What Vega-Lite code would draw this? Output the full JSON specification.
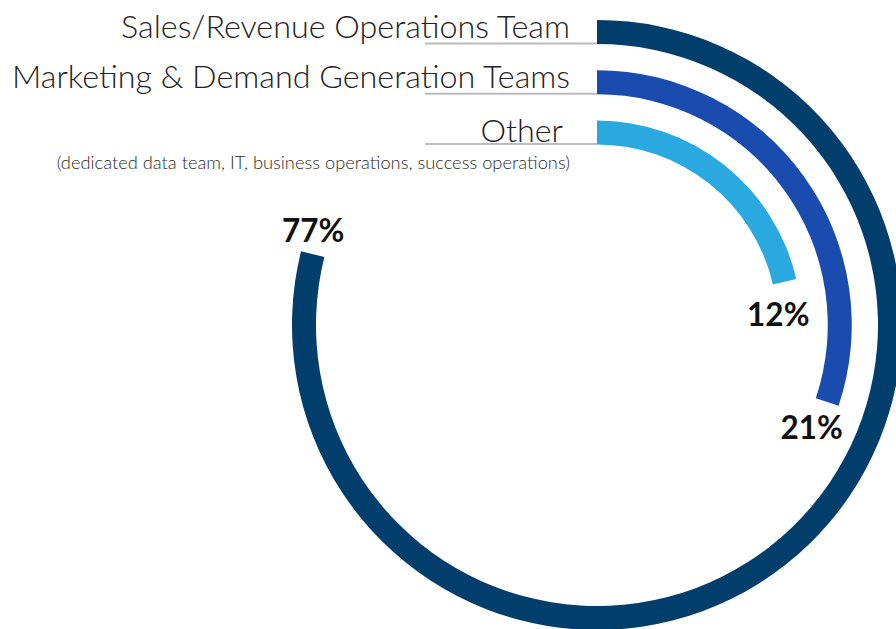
{
  "$schema": "https://vega.github.io/schema/vega-lite/v6.json",
  "width": 600,
  "height": 600,
  "autosize": {"type": "none"},
  "padding": {"left": 297, "top": 25, "right": 0, "bottom": 4},
  "background": "white",
  "config": {"view": {"stroke": null}, "text": {"font": "Lato"}},
  "data": {
    "values": [
      {"team": "Sales/Revenue Operations Team", "pct": "77%", "sweep": 284, "ring": 3, "note": ""},
      {"team": "Marketing & Demand Generation Teams", "pct": "21%", "sweep": 108.5, "ring": 2, "note": ""},
      {"team": "Other", "pct": "12%", "sweep": 77, "ring": 1, "note": "(dedicated data team, IT, business operations, success operations)"}
    ]
  },
  "layer": [
    {
      "mark": {"type": "arc", "radius2Offset": -24},
      "encoding": {
        "theta": {"field": "sweep", "type": "quantitative", "stack": null, "scale": {"domain": [0, 360], "range": [0, 6.283185307]}},
        "theta2": {"datum": 0},
        "radius": {"field": "ring", "type": "quantitative", "scale": {"type": "linear", "zero": false, "domain": [1, 3], "range": [204.5, 305]}},
        "radius2": {"field": "ring"},
        "color": {
          "field": "team", "type": "nominal", "legend": null,
          "scale": {
            "domain": ["Sales/Revenue Operations Team", "Marketing & Demand Generation Teams", "Other"],
            "range": ["#023E6B", "#1A4BAE", "#29A9E0"]
          }
        }
      }
    },
    {
      "mark": {"type": "rule", "color": "#BBBBBB", "strokeWidth": 2},
      "encoding": {
        "y": {"field": "ring", "type": "quantitative", "axis": null, "scale": {"zero": false, "domain": [1, 3], "range": [119, 18.5]}},
        "x": {"datum": 0, "type": "quantitative", "axis": null, "scale": {"domain": [0, 1], "range": [128, 300]}},
        "x2": {"datum": 1}
      }
    },
    {
      "transform": [{"filter": "datum.ring > 1"}],
      "mark": {"type": "text", "align": "right", "baseline": "alphabetic", "dx": -27, "dy": 18, "fontSize": 32.3, "fontWeight": 300, "color": "#222222"},
      "encoding": {
        "theta": {"datum": 0, "type": "quantitative"},
        "radius": {"field": "ring", "type": "quantitative"},
        "text": {"field": "team"}
      }
    },
    {
      "transform": [{"filter": "datum.ring == 1"}],
      "mark": {"type": "text", "align": "right", "baseline": "alphabetic", "dx": -34, "dy": 21, "fontSize": 32.3, "fontWeight": 300, "color": "#222222"},
      "encoding": {
        "theta": {"datum": 0, "type": "quantitative"},
        "radius": {"field": "ring", "type": "quantitative"},
        "text": {"field": "team"}
      }
    },
    {
      "transform": [{"filter": "datum.ring == 1"}],
      "mark": {"type": "text", "align": "right", "baseline": "alphabetic", "dx": -27, "dy": 48.5, "fontSize": 18.3, "fontWeight": 300, "color": "#2a2a2a"},
      "encoding": {
        "theta": {"datum": 0, "type": "quantitative"},
        "radius": {"field": "ring", "type": "quantitative"},
        "text": {"field": "note"}
      }
    },
    {
      "transform": [{"filter": "datum.ring == 3"}],
      "mark": {"type": "text", "align": "center", "baseline": "alphabetic", "dx": 12, "dy": -9, "fontSize": 31.5, "fontWeight": "bold", "color": "#111111"},
      "encoding": {
        "theta": {"field": "sweep", "type": "quantitative"},
        "radius": {"field": "ring", "type": "quantitative"},
        "text": {"field": "pct"}
      }
    },
    {
      "transform": [{"filter": "datum.ring == 2"}],
      "mark": {"type": "text", "align": "center", "baseline": "alphabetic", "dx": -27, "dy": 33, "fontSize": 31.5, "fontWeight": "bold", "color": "#111111"},
      "encoding": {
        "theta": {"field": "sweep", "type": "quantitative"},
        "radius": {"field": "ring", "type": "quantitative"},
        "text": {"field": "pct"}
      }
    },
    {
      "transform": [{"filter": "datum.ring == 1"}],
      "mark": {"type": "text", "align": "center", "baseline": "alphabetic", "dx": -18, "dy": 47, "fontSize": 31.5, "fontWeight": "bold", "color": "#111111"},
      "encoding": {
        "theta": {"field": "sweep", "type": "quantitative"},
        "radius": {"field": "ring", "type": "quantitative"},
        "text": {"field": "pct"}
      }
    }
  ]
}
